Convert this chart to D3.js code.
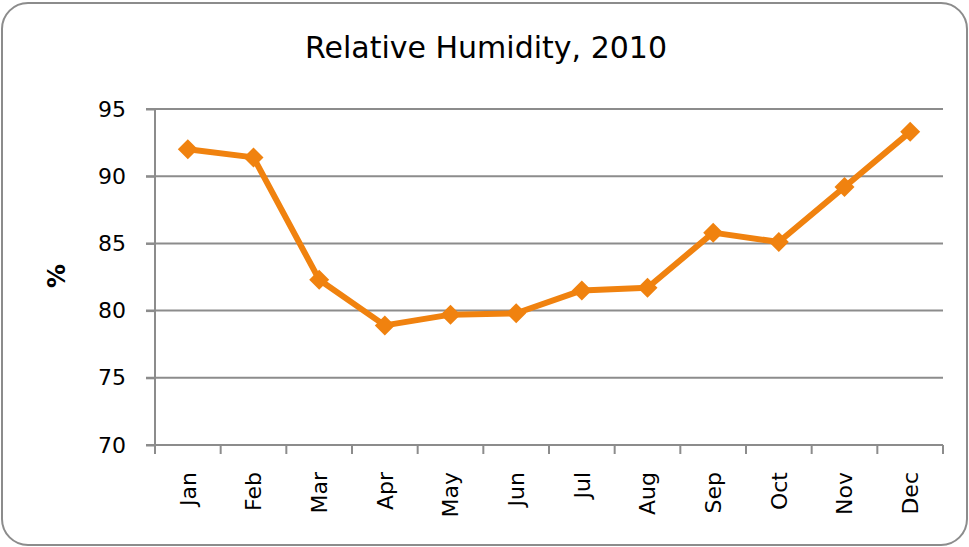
<!DOCTYPE html>
<html><head><meta charset="utf-8">
<script src="https://cdn.jsdelivr.net/npm/d3@7"></script>
<style>html,body{margin:0;padding:0;background:#fff;}</style>
</head><body>
<svg id="c" width="969" height="547"></svg>
<script>
const months = ["Jan","Feb","Mar","Apr","May","Jun","Jul","Aug","Sep","Oct","Nov","Dec"];
const humidity = [92.0, 91.4, 82.3, 78.9, 79.7, 79.8, 81.5, 81.7, 85.8, 85.1, 89.2, 93.3];
const yTicks = [70, 75, 80, 85, 90, 95];
const title = "Relative Humidity, 2010";
const yLabel = "%";

const svg = d3.select("#c");
const font = "'DejaVu Sans', sans-serif";
const gray = "#8c8c8c";
const orange = "#f0820f";

svg.append("rect").attr("x",2).attr("y",3).attr("width",965).attr("height",542)
  .attr("rx",26).attr("ry",26).attr("fill","#fff").attr("stroke",gray).attr("stroke-width",2);

const pLeft=155, pRight=943, pTop=109, pBottom=445;
const x = d3.scaleBand().domain(months).range([pLeft,pRight]);
const y = d3.scaleLinear().domain([70,95]).range([pBottom,pTop]);

// gridlines
svg.append("g").selectAll("line").data(yTicks.filter(d=>d>70)).join("line")
  .attr("x1",pLeft-9).attr("x2",pRight).attr("y1",d=>y(d)).attr("y2",d=>y(d))
  .attr("stroke",gray).attr("stroke-width",2);

// y axis
const ya = svg.append("g").attr("transform",`translate(${pLeft},0)`)
  .call(d3.axisLeft(y).tickValues(yTicks).tickSize(9).tickPadding(20).tickFormat(d3.format("d")));
ya.select(".domain").attr("stroke",gray).attr("stroke-width",2).attr("d",`M0,${pTop}V${pBottom}`);
ya.selectAll(".tick line").attr("stroke",gray).attr("stroke-width",2);
ya.selectAll(".tick text").attr("font-family",font).attr("font-size",22).attr("fill","#000");

// x axis
const xa = svg.append("g").attr("transform",`translate(0,${pBottom})`)
  .call(d3.axisBottom(x).tickSize(0).tickFormat(d=>d));
xa.select(".domain").attr("stroke",gray).attr("stroke-width",2).attr("d",`M${pLeft-9},0H${pRight}`);
xa.selectAll(".tick text").attr("font-family",font).attr("font-size",22).attr("fill","#000")
  .attr("text-anchor","end").attr("transform","rotate(-90)").attr("x",-27).attr("y",0).attr("dy","0.35em");
// x boundary ticks
svg.append("g").selectAll("line").data(months.concat(["_end"])).join("line")
  .attr("x1",(d,i)=> i<12 ? x(d) : pRight).attr("x2",(d,i)=> i<12 ? x(d) : pRight)
  .attr("y1",pBottom).attr("y2",pBottom+9).attr("stroke",gray).attr("stroke-width",2);

// line
const line = d3.line().x((d,i)=>x(months[i])+x.bandwidth()/2).y(d=>y(d));
svg.append("path").datum(humidity).attr("d",line).attr("fill","none")
  .attr("stroke",orange).attr("stroke-width",6).attr("stroke-linejoin","round");
svg.append("g").selectAll("path").data(humidity).join("path")
  .attr("d",d3.symbol(d3.symbolSquare,200))
  .attr("transform",(d,i)=>`translate(${x(months[i])+x.bandwidth()/2},${y(d)}) rotate(45)`)
  .attr("fill",orange);

// title
svg.append("text").attr("x",486).attr("y",58).attr("text-anchor","middle")
  .attr("font-family",font).attr("font-size",30).attr("fill","#000").text(title);
// y label
svg.append("text").attr("transform","translate(65,276) rotate(-90)").attr("text-anchor","middle")
  .attr("font-family",font).attr("font-size",24).attr("font-weight","bold").attr("fill","#000").text(yLabel);
</script>
</body></html>
